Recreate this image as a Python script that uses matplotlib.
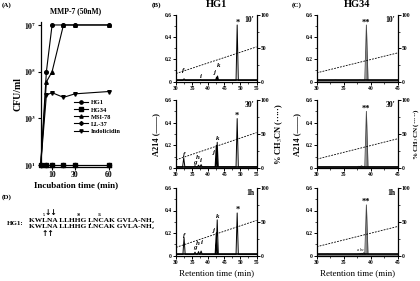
import matplotlib
matplotlib.use("Agg")
import matplotlib.pyplot as plt
from matplotlib.ticker import FixedLocator, MultipleLocator

plt.rcParams['font.family'] = ['Liberation Serif', 'DejaVu Serif']
plt.rcParams['mathtext.fontset'] = 'stix'

# ---------------- data ----------------
# Panel A: CFU/ml over incubation time
time_min = [0, 5, 10, 20, 30, 60]
cfu_hg1 = [1e1, 1e5, 1e7, 1e7, 1e7, 1e7]
cfu_hg34 = [1e1, 1e1, 1e1, 1e1, 1e1, 1e1]
cfu_msi78 = [1e1, 10**4.56, 1e5, 1e7, 1e7, 1e7]
cfu_ll37 = [1e1, 1e1, 1e1, 1e1, 1e1, 1e1]
cfu_indol = [1e1, 10**4.0, 10**4.1, 10**3.9, 10**4.05, 10**4.15]
series_names = ['HG1', 'HG34', 'MSI-78', 'LL-37', 'Indolicidin']

# Panels B/C: HPLC peaks (retention time, A214 height)
hg1_peaks = {
    "10'": ([32.5, 37.6, 42.6, 42.9, 49.0], [0.025, 0.015, 0.04, 0.05, 0.51]),
    "30'": ([32.4, 35.9, 37.0, 37.8, 42.5, 42.8, 49.0],
            [0.09, 0.02, 0.025, 0.03, 0.20, 0.227, 0.436]),
    "1h": ([32.5, 35.9, 37.0, 37.8, 42.5, 42.8, 49.0],
           [0.16, 0.03, 0.035, 0.04, 0.20, 0.317, 0.378]),
}
hg34_peaks = {
    "10'": ([33.5, 38.0, 39.2], [0.012, 0.012, 0.51]),
    "30'": ([34.5, 36.5, 37.8, 38.3, 39.2], [0.008, 0.01, 0.015, 0.02, 0.50]),
    "1h": ([32.0, 37.9, 38.3, 38.7, 39.2], [0.012, 0.015, 0.02, 0.025, 0.45]),
}
# peak labels (text, rt, y)
hg1_labels = {
    "10'": [('f', 32.3, 0.10), ('i', 37.7, 0.045), ('j', 42.2, 0.085),
            ('k', 43.4, 0.14), ('*', 49.1, 0.53)],
    "30'": [('f', 32.6, 0.12), ('g', 35.8, 0.047), ('h', 36.7, 0.092),
            ('i', 37.7, 0.063), ('j', 41.9, 0.137), ('k', 42.8, 0.257),
            ('*', 49.0, 0.46)],
    "1h": [('f', 32.6, 0.18), ('g', 35.8, 0.068), ('h', 36.9, 0.104),
           ('i', 38.0, 0.113), ('j', 41.9, 0.225), ('k', 43.0, 0.347),
           ('*', 49.1, 0.41)],
}
hg34_labels = {
    "10'": [('**', 39.2, 0.53)],
    "30'": [('**', 39.2, 0.52)],
    "1h": [('a', 37.7, 0.03), ('b', 38.1, 0.03), ('c', 38.5, 0.03), ('**', 39.2, 0.48)],
}
# acetonitrile gradient (start, end) in %
hg1_range = (30, 55)
hg1_gradient = (12, 52)
hg34_range = (30, 45)
hg34_gradient = (13, 43)
row_names = ["10'", "30'", "1h"]

W, H = 420, 281
fig = plt.figure(figsize=(W / 100, H / 100), dpi=100)


def ax_px(l, t, r, b):
    return fig.add_axes([l / W, 1 - b / H, (r - l) / W, (b - t) / H])


def px(x, y):
    return x / W, 1 - y / H


# ---------------- Panel A ----------------
axA = ax_px(40.7, 21.7, 110.7, 166.7)
styles = [('o', cfu_hg1), ('s', cfu_hg34), ('^', cfu_msi78), ('D', cfu_ll37), ('v', cfu_indol)]
handles = []
for (m, vals), name in zip(styles, series_names):
    ms = 2.6 if m != 'D' else 2.2
    h, = axA.plot(time_min, vals, marker=m, color='black', lw=0.8, ms=ms,
                  clip_on=False, label=name)
    handles.append(h)
axA.set_yscale('log')
axA.set_ylim(10**0.93, 10**7.14)
axA.set_xlim(0, 61.5)
axA.yaxis.set_major_locator(FixedLocator([1e1, 1e3, 1e5, 1e7]))
axA.yaxis.set_minor_locator(FixedLocator([]))
axA.set_yticklabels(['$\\mathbf{10^1}$', '$\\mathbf{10^3}$', '$\\mathbf{10^5}$', '$\\mathbf{10^7}$'])
axA.set_xticks([10, 30, 60])
for s in ['top', 'right']:
    axA.spines[s].set_visible(False)
for s in ['left', 'bottom']:
    axA.spines[s].set_linewidth(0.9)
axA.tick_params(length=2, width=0.8, labelsize=5.5, pad=1)
for lab in axA.get_xticklabels():
    lab.set_fontweight('bold')
axA.set_xlabel('Incubation time (min)', fontsize=6.5, fontweight='bold', labelpad=2)
axA.set_ylabel('CFU/ml', fontsize=7, fontweight='bold', labelpad=1)
axA.set_title('MMP-7 (50nM)', fontsize=5.5, fontweight='bold', pad=6)
leg = axA.legend(handles=handles, loc='upper left', bbox_to_anchor=px(74, 100),
                 bbox_transform=fig.transFigure, frameon=False, fontsize=4.6,
                 handlelength=2.2, handletextpad=0.5, labelspacing=0.25,
                 borderpad=0, borderaxespad=0, markerscale=0.9)
for t in leg.get_texts():
    t.set_fontweight('bold')

fig.text(*px(2, 5), '(A)', fontsize=5, fontweight='bold', va='center', ha='left')
fig.text(*px(152, 5), '(B)', fontsize=5, fontweight='bold', va='center', ha='left')
fig.text(*px(292, 5), '(C)', fontsize=5, fontweight='bold', va='center', ha='left')
fig.text(*px(2, 197), '(D)', fontsize=5, fontweight='bold', va='center', ha='left')


# ---------------- Panels B / C ----------------
def trace(peaks, xr, hw, base=0.01):
    rts, hs = peaks
    xs, ys = [xr[0]], [base]
    for rt, hh in sorted(zip(rts, hs)):
        xs += [rt - hw, rt, rt + hw]
        ys += [base, hh, base]
    xs.append(xr[1])
    ys.append(base)
    return xs, ys


def chrom(ax, peaks, labels, xr, grad, tag, hw, gray, xticks):
    xs, ys = trace(peaks, xr, hw)
    if gray:
        ax.fill_between(xs, 0, ys, color='#8a8a8a', lw=0)
        ax.plot(xs, ys, color='#444444', lw=0.6)
    else:
        ax.plot(xs, ys, color='black', lw=0.7)
    ax.plot(xr, [0.01, 0.01], color='black', lw=1.2)
    ax.set_xlim(*xr)
    ax.set_ylim(0, 0.6)
    ax.set_xticks(xticks)
    ax.xaxis.set_minor_locator(MultipleLocator(2.5))
    ax.set_yticks([0, 0.2, 0.4, 0.6])
    ax.set_yticklabels(['0', '0.2', '0.4', '0.6'])
    ax.yaxis.set_minor_locator(MultipleLocator(0.1))
    ax.spines['top'].set_visible(False)
    ax.spines['right'].set_visible(False)
    for s in ['left', 'bottom']:
        ax.spines[s].set_linewidth(0.9)
    ax.tick_params(which='major', length=2, width=0.7, labelsize=4, pad=1)
    ax.tick_params(which='minor', length=1.2, width=0.5)
    for lab in ax.get_xticklabels() + ax.get_yticklabels():
        lab.set_fontweight('bold')
    for txt, x, y in labels:
        if '*' in txt:
            ax.text(x, y, txt, fontsize=6, fontweight='bold', ha='center', va='center')
        elif txt in 'abc':
            ax.text(x, y, txt, fontsize=3, style='italic', ha='center', va='bottom')
        else:
            ax.text(x, y, txt, fontsize=5, style='italic', fontweight='bold',
                    ha='center', va='center')
    ax.text(0.97, 0.93, tag, transform=ax.transAxes, fontsize=5.5,
            fontweight='bold', ha='right', va='center')
    ax2 = ax.twinx()
    ax2.plot(xr, grad, color='black', lw=0.6, ls=(0, (2.2, 1.4)))
    ax2.set_ylim(0, 100)
    ax2.set_yticks([0, 50, 100])
    ax2.yaxis.set_minor_locator(MultipleLocator(25))
    ax2.spines['top'].set_visible(False)
    ax2.spines['left'].set_visible(False)
    ax2.spines['bottom'].set_visible(False)
    ax2.spines['right'].set_linewidth(0.9)
    ax2.tick_params(which='major', length=2, width=0.7, labelsize=4, pad=1)
    ax2.tick_params(which='minor', length=1.2, width=0.5)
    for lab in ax2.get_yticklabels():
        lab.set_fontweight('bold')
    return ax2


rows_px = [(15, 81.5), (100, 168), (188, 255.5)]
for i, (row, (t, b)) in enumerate(zip(row_names, rows_px)):
    axB = ax_px(176, t, 256.5, b)
    axB2 = chrom(axB, hg1_peaks[row], hg1_labels[row], hg1_range, hg1_gradient,
                 row, 0.35, False, [30, 35, 40, 45, 50, 55])
    axC = ax_px(316.7, t, 397.7, b)
    axC2 = chrom(axC, hg34_peaks[row], hg34_labels[row], hg34_range, hg34_gradient,
                 row, 0.3, True, [30, 35, 40, 45])
    if i == 0:
        axB.set_title('HG1', fontsize=7.5, fontweight='bold', pad=6)
        axC.set_title('HG34', fontsize=7.5, fontweight='bold', pad=6)
    if i == 1:
        for a in (axB, axC):
            a.set_ylabel('A214 (——)', fontsize=6, fontweight='bold', labelpad=3)
        axB2.set_ylabel('% CH$_3$CN (·····)', fontsize=6, fontweight='bold', labelpad=3)
        axC2.set_ylabel('% CH$_3$CN (·····)', fontsize=5, fontweight='bold', labelpad=0.5)
    if i == 2:
        for a in (axB, axC):
            a.set_xlabel('Retention time (min)', fontsize=6.5, labelpad=3)

# ---------------- Panel D ----------------
seq = 'KWLNA LLHHG LNCAK GVLA-NH₂'
fig.text(*px(7, 223.5), 'HG1:', fontsize=5, fontweight='bold', va='center', ha='left')
fig.text(*px(29, 220.2), seq, fontsize=5.3, fontweight='bold', va='center', ha='left')
fig.text(*px(29, 226.8), seq, fontsize=5.3, fontweight='bold', va='center', ha='left')
fig.text(*px(43.5, 215.5), '5', fontsize=3, fontweight='bold', va='center', ha='center')
fig.text(*px(78.5, 215.5), '10', fontsize=3, fontweight='bold', va='center', ha='center')
fig.text(*px(99.5, 215.5), '15', fontsize=3, fontweight='bold', va='center', ha='center')
fig.text(*px(50.5, 212.5), '↓↓', fontsize=5.5, fontweight='bold', va='center', ha='center',
         family=['DejaVu Sans'])
fig.text(*px(47.5, 234), '↑↑', fontsize=5.5, fontweight='bold', va='center', ha='center',
         family=['DejaVu Sans'])
fig.add_artist(plt.Line2D([89.5 / W, 89.5 / W], [1 - 222.8 / H, 1 - 224.3 / H],
                          color='black', lw=0.6))

fig.savefig('out.png', dpi=100)
